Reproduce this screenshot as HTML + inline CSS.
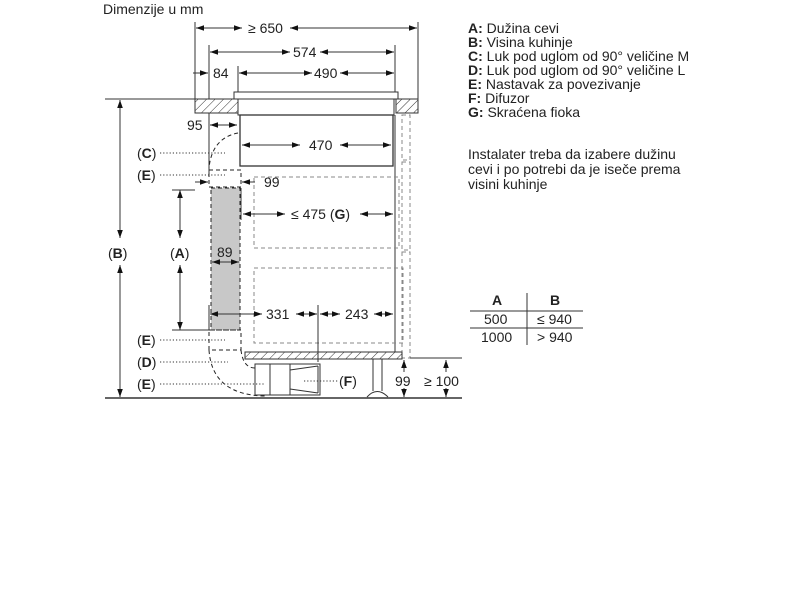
<!DOCTYPE html>
<html><head><meta charset="utf-8"><style>
body{margin:0;background:#fff;width:800px;height:600px;overflow:hidden}
svg{position:absolute;left:0;top:0}
text{font-family:"Liberation Sans",sans-serif;font-size:14px;fill:#222}
.b{font-weight:bold}
</style></head><body>
<svg width="800" height="600" viewBox="0 0 800 600">
<defs>
<marker id="a" viewBox="0 0 10 10" refX="10" refY="5" markerWidth="8" markerHeight="8" orient="auto-start-reverse" markerUnits="userSpaceOnUse"><path d="M0,1.5 L10,5 L0,8.5z" fill="#111"/></marker>
<pattern id="h" width="6" height="6" patternUnits="userSpaceOnUse" patternTransform="rotate(45)"><rect width="6" height="6" fill="#fff"/><line x1="0" y1="0" x2="0" y2="6" stroke="#333" stroke-width="1"/></pattern>
</defs>
<g stroke="#333" stroke-width="1" fill="none">
<line x1="105" y1="398" x2="462" y2="398" stroke-width="1.5"/>
<line x1="105" y1="99" x2="195" y2="99"/>
<line x1="195" y1="22" x2="195" y2="99"/>
<line x1="418" y1="22" x2="418" y2="99"/>
<line x1="209" y1="45" x2="209" y2="175"/>
<line x1="395" y1="45" x2="395" y2="92"/>
<line x1="238" y1="66" x2="238" y2="92"/>
<rect x="195" y="99" width="43" height="14" fill="url(#h)"/>
<rect x="396" y="99" width="22" height="14" fill="url(#h)"/>
<rect x="234" y="92" width="164" height="7" fill="#fff"/>
<rect x="238" y="99" width="156" height="16" fill="#fff"/>
<rect x="240" y="115" width="153" height="51" fill="#fff" stroke-width="1.3"/>
<line x1="395" y1="115" x2="395" y2="356"/>
<g stroke-dasharray="4,3" stroke="#888">
<rect x="402" y="115" width="8" height="45"/>
<rect x="402" y="162" width="8" height="88"/>
<rect x="402" y="252" width="8" height="106"/>
<rect x="254" y="177" width="145" height="71"/>
<rect x="254" y="268" width="149" height="75"/>
</g>
<g stroke-dasharray="4,3" stroke="#222">
<path d="M238,133 Q212,138 209,168"/>
<rect x="209" y="170" width="32" height="17"/>
<rect x="211" y="188" width="29" height="142" fill="#c8c8c8"/>
<rect x="209" y="330" width="32" height="20"/>
<path d="M209,350 Q212,395 265,396"/>
<path d="M241,350 Q243,368 255,368 L255,396"/>
</g>
<line x1="241" y1="188" x2="241" y2="220"/>
<rect x="245" y="352" width="157" height="7" fill="url(#h)"/>
<rect x="255" y="364" width="65" height="31" fill="#fff"/>
<line x1="270" y1="364" x2="270" y2="395"/>
<path d="M290,364 L290,395 M290,370 L318,366 M290,389 L318,393 M318,366 L318,393"/>
<path d="M373,359 L373,391 M382,359 L382,391 M367,397 Q377,386 388,397"/>
<g marker-end="url(#a)" marker-start="url(#a)">
<line x1="196" y1="28" x2="242" y2="28"/><line x1="290" y1="28" x2="417" y2="28"/>
<line x1="210" y1="52" x2="290" y2="52"/><line x1="320" y1="52" x2="394" y2="52"/>
<line x1="239" y1="73" x2="312" y2="73"/><line x1="340" y1="73" x2="394" y2="73"/>
<line x1="210" y1="125" x2="237" y2="125"/>
<line x1="242" y1="145" x2="300" y2="145"/><line x1="340" y1="145" x2="391" y2="145"/>
<line x1="243" y1="214" x2="285" y2="214"/><line x1="360" y1="214" x2="393" y2="214"/>
<line x1="212" y1="262" x2="239" y2="262"/>
<line x1="210" y1="314" x2="262" y2="314"/><line x1="296" y1="314" x2="317" y2="314"/>
<line x1="320" y1="314" x2="340" y2="314"/><line x1="374" y1="314" x2="393" y2="314"/>
<line x1="180" y1="190" x2="180" y2="238"/><line x1="180" y1="265" x2="180" y2="330"/>
<line x1="120" y1="100" x2="120" y2="238"/><line x1="120" y1="265" x2="120" y2="397"/>
</g>
<g marker-end="url(#a)">
<line x1="404" y1="372" x2="404" y2="360"/><line x1="404" y1="388" x2="404" y2="397"/>
<line x1="446" y1="372" x2="446" y2="360"/><line x1="446" y1="388" x2="446" y2="397"/>
</g>
<line x1="193" y1="73" x2="208" y2="73" marker-end="url(#a)"/>
<line x1="195" y1="182" x2="208" y2="182" marker-end="url(#a)"/>
<line x1="255" y1="182" x2="242" y2="182" marker-end="url(#a)"/>
<line x1="172" y1="330" x2="209" y2="330"/>
<line x1="209" y1="305" x2="209" y2="330"/>
<line x1="318" y1="305" x2="318" y2="362"/>
<line x1="410" y1="358" x2="462" y2="358"/>
<line x1="172" y1="190" x2="195" y2="190"/>
<g stroke-dasharray="1.2,2" stroke="#333">
<line x1="160" y1="153" x2="225" y2="153"/>
<line x1="160" y1="175" x2="225" y2="175"/>
<line x1="160" y1="340" x2="225" y2="340"/>
<line x1="160" y1="362" x2="228" y2="362"/>
<line x1="160" y1="384" x2="265" y2="384"/>
<line x1="304" y1="381" x2="338" y2="381"/>
</g>
<line x1="470" y1="311" x2="583" y2="311"/>
<line x1="470" y1="328" x2="583" y2="328"/>
<line x1="527" y1="293" x2="527" y2="345"/>
</g>
<text x="103" y="14">Dimenzije u mm</text>
<text x="248" y="33">≥ 650</text>
<text x="293" y="57">574</text>
<text x="213" y="78">84</text>
<text x="314" y="78">490</text>
<text x="187" y="130">95</text>
<text x="309" y="150">470</text>
<text x="264" y="187">99</text>
<text x="291" y="219">≤ 475 (<tspan class="b">G</tspan>)</text>
<text x="217" y="257">89</text>
<text x="266" y="319">331</text>
<text x="345" y="319">243</text>
<text x="395" y="386">99</text>
<text x="424" y="386">≥ 100</text>
<text x="137" y="158">(<tspan class="b">C</tspan>)</text>
<text x="137" y="180">(<tspan class="b">E</tspan>)</text>
<text x="137" y="345">(<tspan class="b">E</tspan>)</text>
<text x="137" y="367">(<tspan class="b">D</tspan>)</text>
<text x="137" y="389">(<tspan class="b">E</tspan>)</text>
<text x="339" y="386">(<tspan class="b">F</tspan>)</text>
<text x="170" y="258">(<tspan class="b">A</tspan>)</text>
<text x="108" y="258">(<tspan class="b">B</tspan>)</text>
<text x="468" y="33"><tspan class="b">A:</tspan> Dužina cevi</text>
<text x="468" y="47"><tspan class="b">B:</tspan> Visina kuhinje</text>
<text x="468" y="61"><tspan class="b">C:</tspan> Luk pod uglom od 90° veličine M</text>
<text x="468" y="75"><tspan class="b">D:</tspan> Luk pod uglom od 90° veličine L</text>
<text x="468" y="89"><tspan class="b">E:</tspan> Nastavak za povezivanje</text>
<text x="468" y="103"><tspan class="b">F:</tspan> Difuzor</text>
<text x="468" y="117"><tspan class="b">G:</tspan> Skraćena fioka</text>
<text x="468" y="159">Instalater treba da izabere dužinu</text>
<text x="468" y="174">cevi i po potrebi da je iseče prema</text>
<text x="468" y="189">visini kuhinje</text>
<text x="492" y="305" class="b">A</text>
<text x="550" y="305" class="b">B</text>
<text x="484" y="324">500</text>
<text x="537" y="324">≤ 940</text>
<text x="481" y="342">1000</text>
<text x="537" y="342">&gt; 940</text>
</svg>
</body></html>
